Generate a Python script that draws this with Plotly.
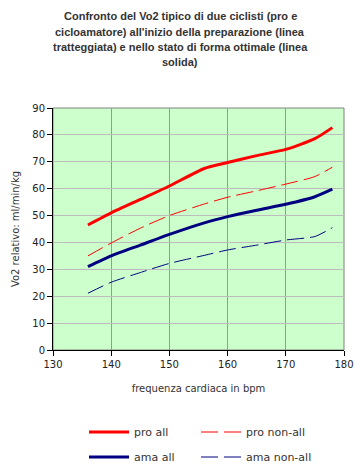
import plotly.graph_objects as go

# Data
hr = [136, 140, 145, 150, 156, 160, 165, 170, 175, 178]
pro_all = [46.5, 51.0, 56.0, 61.0, 67.5, 69.7, 72.3, 74.6, 78.6, 82.7]
pro_non_all = [35.0, 39.8, 45.3, 50.0, 54.3, 56.8, 59.2, 61.7, 64.5, 68.0]
ama_all = [31.0, 35.0, 39.0, 43.0, 47.3, 49.6, 52.0, 54.2, 57.0, 59.8]
ama_non_all = [21.1, 25.2, 28.8, 32.2, 35.2, 37.2, 39.0, 40.9, 42.2, 45.5]

title_lines = [
    "Confronto del Vo2 tipico di due ciclisti (pro e",
    "cicloamatore) all'inizio della preparazione (linea",
    "tratteggiata) e nello stato di forma ottimale (linea",
    "solida)",
]

RED = "#FF0000"
NAVY = "#000080"
DASH = "17px,6px"

PL, PR, PT, PB = 53, 344, 108, 350  # plot area pixels


def px_x(p):
    return (p - PL) / (PR - PL)


def px_y(p):
    return (PB - p) / (PB - PT)


fig = go.Figure()
fig.add_trace(go.Scatter(x=hr, y=pro_all, name="pro all", mode="lines",
                         line=dict(color=RED, width=3, shape="spline", smoothing=0.6),
                         legend="legend"))
fig.add_trace(go.Scatter(x=hr, y=pro_non_all, name="pro non-all", mode="lines",
                         line=dict(color=RED, width=1, dash=DASH, shape="spline", smoothing=0.6),
                         legend="legend2"))
fig.add_trace(go.Scatter(x=hr, y=ama_all, name="ama all", mode="lines",
                         line=dict(color=NAVY, width=3, shape="spline", smoothing=0.6),
                         legend="legend3"))
fig.add_trace(go.Scatter(x=hr, y=ama_non_all, name="ama non-all", mode="lines",
                         line=dict(color=NAVY, width=1, dash=DASH, shape="spline", smoothing=0.6),
                         legend="legend4"))

TXT = "#333333"
tick_font = dict(family="DejaVu Sans", size=10, color="#222222")

annotations = []
line_y = [16, 32, 47, 62]
for t, py in zip(title_lines, line_y):
    annotations.append(dict(text="<b>" + t + "</b>", x=px_x(180), xref="paper",
                            y=px_y(py), yref="paper", yanchor="middle", xanchor="center",
                            showarrow=False,
                            font=dict(family="Liberation Sans", size=11, color=TXT)))

legend_common = dict(orientation="h", xref="container", yref="container",
                     xanchor="left", yanchor="middle",
                     bgcolor="rgba(0,0,0,0)", itemwidth=40,
                     font=dict(family="DejaVu Sans", size=11, color=TXT),
                     itemclick=False, itemdoubleclick=False)

COL1, COL2 = 84, 196
ROW1, ROW2 = 432, 457

fig.update_layout(
    width=360, height=468,
    margin=dict(l=PL, r=360 - PR, t=PT, b=468 - PB, autoexpand=False),
    paper_bgcolor="white",
    plot_bgcolor="#CCFFCC",
    annotations=annotations,
    showlegend=True,
    legend=dict(x=COL1 / 360, y=1 - ROW1 / 468, **legend_common),
    legend2=dict(x=COL2 / 360, y=1 - ROW1 / 468, **legend_common),
    legend3=dict(x=COL1 / 360, y=1 - ROW2 / 468, **legend_common),
    legend4=dict(x=COL2 / 360, y=1 - ROW2 / 468, **legend_common),
    xaxis=dict(range=[130, 180], dtick=10, tick0=130, automargin=False,
               showgrid=True, gridcolor="#999999", gridwidth=1,
               showline=True, linecolor="black", linewidth=1,
               ticks="outside", ticklen=5, tickcolor="black",
               zeroline=False, tickfont=tick_font,
               title=dict(text="frequenza cardiaca in bpm", standoff=15,
                          font=dict(family="DejaVu Sans", size=10, color=TXT))),
    yaxis=dict(range=[0, 90], dtick=10, tick0=0, automargin=False,
               showgrid=True, gridcolor="#BDBDBD", gridwidth=1,
               showline=True, linecolor="black", linewidth=1,
               ticks="outside", ticklen=5, tickcolor="black",
               zeroline=False, tickfont=tick_font,
               title=dict(text="Vo2 relativo: ml/min/kg", standoff=10,
                          font=dict(family="DejaVu Sans", size=10, color=TXT))),
    shapes=[dict(type="rect", xref="paper", yref="paper", x0=0, x1=1, y0=0, y1=1,
                 line=dict(color="#808080", width=1), layer="below")],
)

fig.write_html("out.html", config={"displayModeBar": False},
               post_script="document.body.style.margin='0';")
